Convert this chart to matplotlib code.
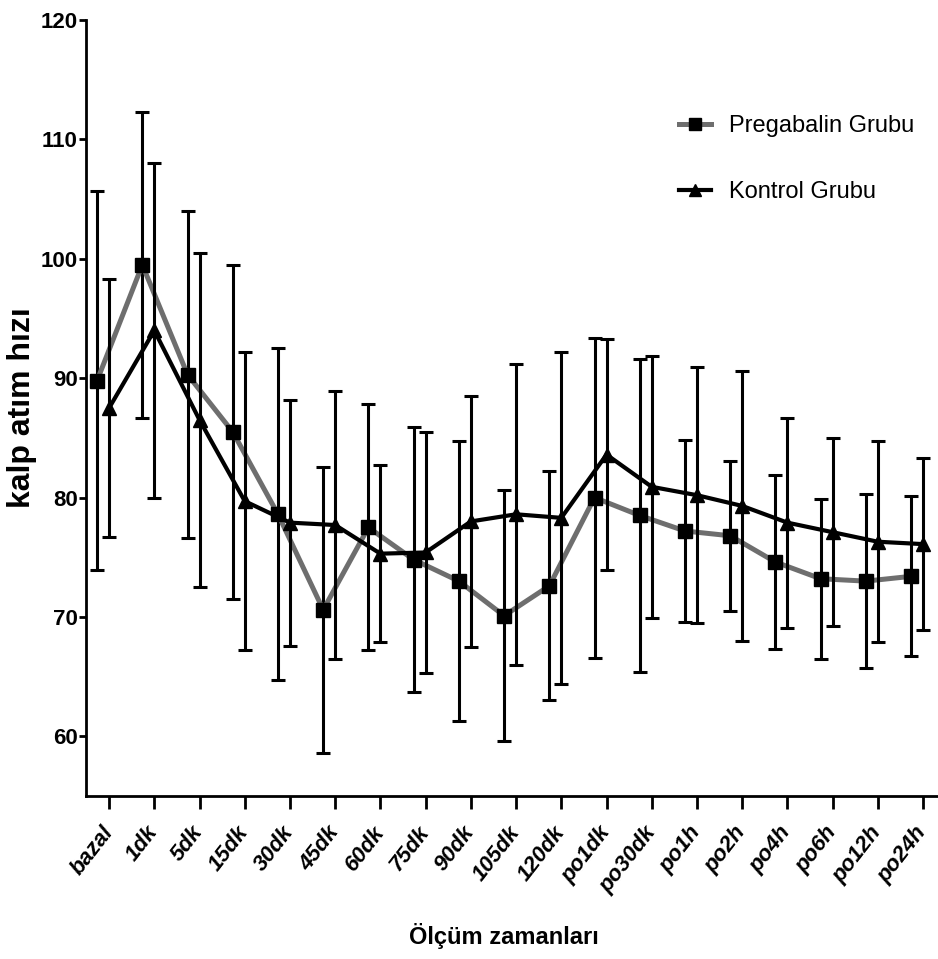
import matplotlib
matplotlib.use("Agg")
import matplotlib.pyplot as plt
from matplotlib.lines import Line2D
import numpy as np

plt.rcParams["font.family"] = ["Liberation Sans", "DejaVu Sans"]

# measurement times
times = ["bazal", "1dk", "5dk", "15dk", "30dk", "45dk", "60dk", "75dk", "90dk",
         "105dk", "120dk", "po1dk", "po30dk", "po1h", "po2h", "po4h", "po6h",
         "po12h", "po24h"]

# heart rate, mean and SD per group
preg_mean = [89.8, 99.5, 90.3, 85.5, 78.6, 70.6, 77.5, 74.8, 73.0, 70.1,
             72.6, 80.0, 78.5, 77.2, 76.8, 74.6, 73.2, 73.0, 73.4]
preg_sd = [15.9, 12.8, 13.7, 14.0, 13.9, 12.0, 10.3, 11.1, 11.7, 10.5,
           9.6, 13.4, 13.1, 7.6, 6.3, 7.3, 6.7, 7.3, 6.7]

kont_mean = [87.5, 94.0, 86.5, 79.7, 77.9, 77.7, 75.3, 75.4, 78.0, 78.6,
             78.3, 83.6, 80.9, 80.2, 79.3, 77.9, 77.1, 76.3, 76.1]
kont_sd = [10.8, 14.0, 14.0, 12.5, 10.3, 11.2, 7.4, 10.1, 10.5, 12.6,
           13.9, 9.7, 11.0, 10.7, 11.3, 8.8, 7.9, 8.4, 7.2]

GRAY = "#6e6e6e"
x = np.arange(len(times))
shift = -0.265

fig = plt.figure(figsize=(9.38, 9.59), dpi=100)
ax = fig.add_axes([0.0917, 0.170, 0.9083, 0.809])

ax.errorbar(x + shift, preg_mean, yerr=preg_sd, color=GRAY, lw=3.6,
            marker="s", ms=9.5, mfc="black", mec="black",
            ecolor="black", elinewidth=2.2, capsize=5, capthick=2.2, zorder=2)
ax.errorbar(x, kont_mean, yerr=kont_sd, color="black", lw=3.0,
            marker="^", ms=9.5, mfc="black", mec="black",
            ecolor="black", elinewidth=2.2, capsize=5, capthick=2.2, zorder=3)

ax.set_xlim(-0.51, 18.33)
ax.set_ylim(55, 120)
ax.set_yticks(np.arange(60, 121, 10))
ax.set_xticks(x)
ax.set_xticklabels(times, rotation=52, ha="right", va="center",
                   rotation_mode="anchor", fontstyle="italic",
                   fontweight="bold", fontsize=16)
for lab in ax.get_yticklabels():
    lab.set_fontweight("bold")
    lab.set_fontsize(16)

for side in ("top", "right"):
    ax.spines[side].set_visible(False)
for side in ("left", "bottom"):
    ax.spines[side].set_linewidth(2.0)
ax.tick_params(axis="x", direction="out", length=9.5, width=2.0, pad=14)
ax.tick_params(axis="y", direction="out", length=5, width=2.0, pad=1)

ax.set_ylabel("kalp atım hızı", fontsize=23, fontweight="bold")
ax.yaxis.set_label_coords(-0.058, 0.5)
ax.set_xlabel("Ölçüm zamanları", fontsize=17, fontweight="bold")
ax.xaxis.set_label_coords(0.49, -0.164)

handles = [
    Line2D([], [], color=GRAY, lw=3.6, marker="s", ms=9, mfc="black",
           mec="black"),
    Line2D([], [], color="black", lw=3.0, marker="^", ms=9, mfc="black",
           mec="black"),
]
ax.legend(handles, ["Pregabalin Grubu", "Kontrol Grubu"], loc="upper left",
          bbox_to_anchor=(0.671, 0.905), frameon=False, fontsize=17,
          handlelength=1.35, labelspacing=1.85, handletextpad=0.75)

fig.savefig("out.png", dpi=100)
